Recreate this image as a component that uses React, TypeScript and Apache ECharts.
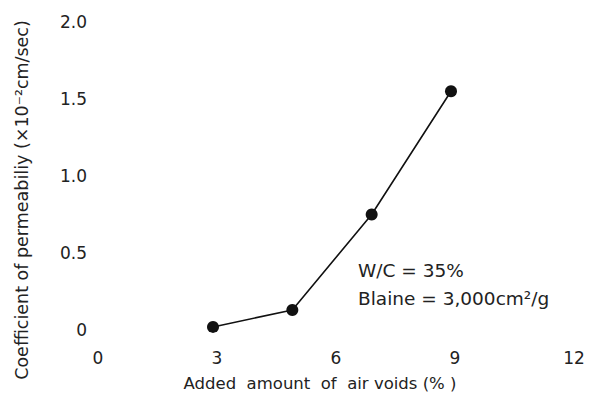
import React, { useEffect, useRef } from "react";
import * as echarts from "echarts";

const airVoids = [3, 5, 7, 9];
const permeability = [0.02, 0.13, 0.75, 1.55];
const xTicks = [0, 3, 6, 9, 12];
const yTicks = [0, 0.5, 1.0, 1.5, 2.0];

const FONT = "'DejaVu Sans', 'Liberation Sans', Arial, sans-serif";

export default function App() {
  const ref = useRef<HTMLDivElement>(null);
  useEffect(() => {
    if (!ref.current) return;
    const chart = echarts.init(ref.current, null, { renderer: "svg" });
    chart.setOption({
      animation: false,
      backgroundColor: "#ffffff",
      grid: { left: 94, right: 20, top: 22, bottom: 72, containLabel: false },
      xAxis: {
        type: "value",
        min: xTicks[0],
        max: xTicks[xTicks.length - 1],
        interval: 3,
        axisLine: { show: false },
        axisTick: { show: false },
        splitLine: { show: false },
        axisLabel: {
          margin: 19,
          fontSize: 17,
          color: "#222",
          fontFamily: FONT,
          padding: [0, 0, 0, 8],
          formatter: (v: number) => String(v),
        },
      },
      yAxis: {
        type: "value",
        min: yTicks[0],
        max: yTicks[yTicks.length - 1],
        interval: 0.5,
        axisLine: { show: false },
        axisTick: { show: false },
        splitLine: { show: false },
        axisLabel: {
          margin: 7,
          fontSize: 17,
          color: "#222",
          fontFamily: FONT,
          formatter: (v: number) => (v === 0 ? "0" : v.toFixed(1)),
        },
      },
      series: [
        {
          type: "line",
          data: airVoids.map((x, i) => [x, permeability[i]]),
          symbol: "circle",
          symbolSize: 12,
          lineStyle: { color: "#111", width: 1.6 },
          itemStyle: { color: "#111" },
        },
      ],
      graphic: [
        {
          type: "text",
          x: 320,
          y: 383,
          style: {
            text: "Added  amount  of  air voids (% )",
            fontSize: 16.5,
            fontFamily: FONT,
            fill: "#222",
            align: "center",
            verticalAlign: "middle",
          },
        },
        {
          type: "text",
          x: 22,
          y: 200,
          rotation: Math.PI / 2,
          style: {
            text: "Coefficient of permeabiliy (×10⁻²cm/sec)",
            fontSize: 17.5,
            fontFamily: FONT,
            fill: "#222",
            align: "center",
            verticalAlign: "middle",
          },
        },
        {
          type: "text",
          x: 358,
          y: 270,
          style: {
            text: "W/C = 35%",
            fontSize: 18.5,
            fontFamily: FONT,
            fill: "#222",
            align: "left",
            verticalAlign: "middle",
          },
        },
        {
          type: "text",
          x: 358,
          y: 298,
          style: {
            text: "Blaine = 3,000cm²/g",
            fontSize: 18.5,
            fontFamily: FONT,
            fill: "#222",
            align: "left",
            verticalAlign: "middle",
          },
        },
      ],
    });
    return () => chart.dispose();
  }, []);
  return <div ref={ref} style={{ width: 590, height: 402, position: "absolute", left: 0, top: 0 }} />;
}
